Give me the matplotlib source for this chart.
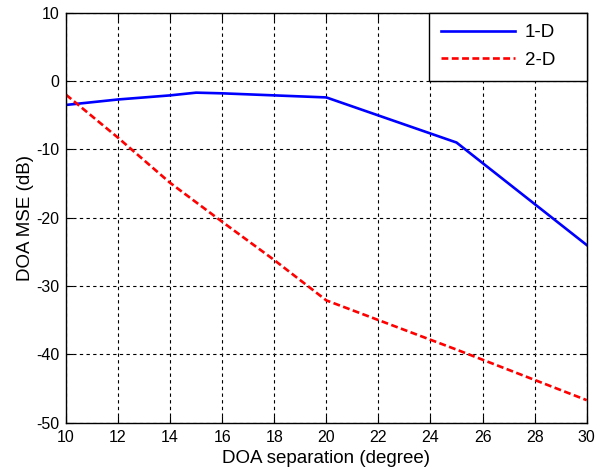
#!/usr/bin/env python
"""Recreate the DOA MSE vs separation chart."""

import matplotlib
matplotlib.use("Agg")
import matplotlib.pyplot as plt

plt.rcParams['font.family'] = ['Liberation Sans', 'DejaVu Sans']
plt.rcParams['axes.unicode_minus'] = False

# DOA separation (degree)
sep_1d = [10, 12, 14, 15, 16, 18, 20, 25, 30]
mse_1d = [-3.5, -2.7, -2.1, -1.7, -1.8, -2.1, -2.4, -9.0, -24.0]

sep_2d = [10, 12, 14, 16, 18, 20, 25, 30]
mse_2d = [-2.0, -8.3, -14.9, -20.6, -26.2, -32.1, -39.3, -46.7]

x_ticks = [10, 12, 14, 16, 18, 20, 22, 24, 26, 28, 30]
y_ticks = [-50, -40, -30, -20, -10, 0, 10]


def main():
    fig = plt.figure(figsize=(6.02, 4.70), dpi=100)
    ax = fig.add_axes([0.1096, 0.1006, 0.8650, 0.8724])

    ax.plot(sep_1d, mse_1d, color='#0000ff', linewidth=1.9, label='1-D')
    ax.plot(sep_2d, mse_2d, color='#ff0000', linewidth=1.9,
            linestyle=(0, (2.6, 1.3)), label='2-D')

    ax.set_xlim(10, 30)
    ax.set_ylim(-50, 10)
    ax.set_xticks(x_ticks)
    ax.set_yticks(y_ticks)
    ax.grid(True, color='black', linestyle=(0, (3, 3)), linewidth=0.8)
    ax.tick_params(direction='in', top=True, right=True, labelsize=11.5,
                   length=5, pad=5)
    for spine in ax.spines.values():
        spine.set_linewidth(1.0)

    ax.set_xlabel('DOA separation (degree)', fontsize=13.5, labelpad=4)
    ax.set_ylabel('DOA MSE (dB)', fontsize=13.5, labelpad=1)

    leg = ax.legend(loc='upper right', fontsize=13.5, fancybox=False,
                    framealpha=1, edgecolor='black',
                    bbox_to_anchor=(0.697, 0.0, 0.303, 1.0), mode='expand',
                    borderaxespad=0, handlelength=3.95, handletextpad=0.55,
                    borderpad=0.62, labelspacing=0.55)
    leg.get_frame().set_linewidth(1.0)

    fig.savefig('out.png', dpi=100)
    return 0


if __name__ == "__main__":
    main()
